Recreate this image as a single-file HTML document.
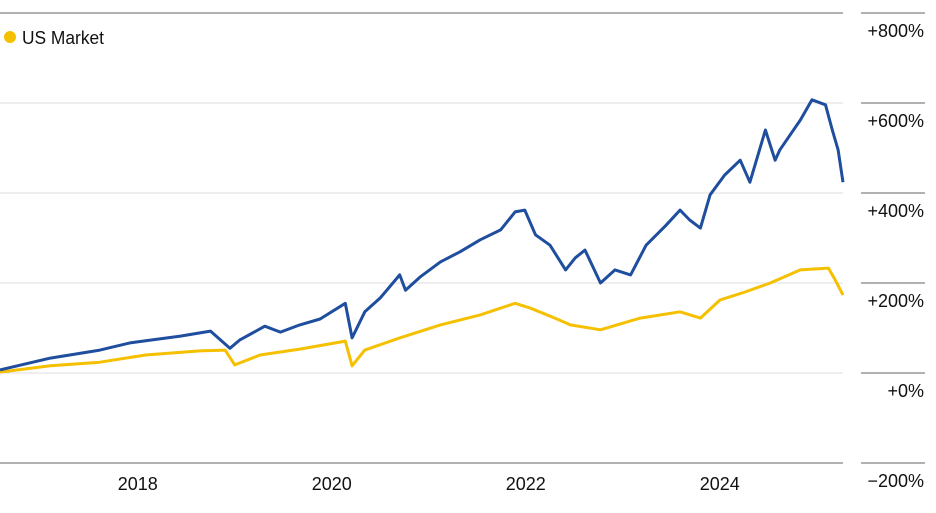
<!DOCTYPE html>
<html><head><meta charset="utf-8"><style>
body{margin:0;background:#fff;font-family:"Liberation Sans",sans-serif}
svg text{font-family:"Liberation Sans",sans-serif}
</style></head><body>
<svg width="936" height="508" viewBox="0 0 936 508">
<g id="grid"></g><g id="axis"></g><g id="series"></g>
<g>
<circle cx="10" cy="37" r="6" fill="#f5c000"/>
<text x="22" y="44" font-size="18" fill="#111" textLength="82" lengthAdjust="spacingAndGlyphs">US Market</text>
</g>
</svg>
<script>
const yTicks=[800,600,400,200,0,-200];
const yTickLabels=["+800%","+600%","+400%","+200%","+0%","\u2212200%"];
const xTicks=[2018,2020,2022,2024];
const blueDates=[2016.58,2017.1,2017.61,2017.92,2018.13,2018.44,2018.75,2018.95,2019.05,2019.31,2019.47,2019.67,2019.88,2020.14,2020.21,2020.34,2020.5,2020.7,2020.76,2020.91,2021.12,2021.32,2021.53,2021.74,2021.89,2021.99,2022.1,2022.25,2022.41,2022.51,2022.61,2022.77,2022.92,2023.08,2023.24,2023.44,2023.59,2023.69,2023.8,2023.9,2024.05,2024.21,2024.31,2024.47,2024.57,2024.62,2024.83,2024.95,2025.09,2025.16,2025.22,2025.27];
const blueVals=[7,33,51,67,73,82,93,55,73,104,91,107,120,155,78,136,167,218,184,213,247,269,296,318,358,362,307,284,229,256,273,200,229,218,284,327,362,340,322,396,440,473,424,540,473,496,562,607,596,540,496,424];
const yellowDates=[2016.58,2017.1,2017.61,2018.08,2018.64,2018.9,2019.0,2019.26,2019.67,2020.14,2020.21,2020.34,2020.7,2021.12,2021.53,2021.89,2022.05,2022.3,2022.46,2022.77,2023.18,2023.59,2023.8,2024.0,2024.26,2024.52,2024.83,2025.12,2025.19,2025.27];
const yellowVals=[2,16,24,40,49,51,18,40,53,71,16,51,78,107,129,155,144,122,107,96,122,136,122,162,180,200,229,233,207,173];
const X0=2016.58,X1=2025.27,PL=0,PR=843;
const xs=d=>PL+(d-X0)/(X1-X0)*(PR-PL);
const ys=v=>373-v*0.45;
const NS="http://www.w3.org/2000/svg";
function mk(tag,attrs,parent){const e=document.createElementNS(NS,tag);for(const k in attrs)e.setAttribute(k,attrs[k]);parent.appendChild(e);return e;}
const grid=document.getElementById('grid'),axis=document.getElementById('axis'),series=document.getElementById('series');
yTicks.forEach((t,i)=>{
 const y=ys(t);
 const edge=(i===0||i===yTicks.length-1);
 const g=mk('line',{x1:0,x2:843,y1:y,y2:y,stroke:edge?'#999':'#ddd','stroke-width':edge?1.5:1},grid);
 
 
 const tl=mk('line',{x1:861,x2:925,y1:y,y2:y,stroke:'#999','stroke-width':1.5},axis);
 
 
 const tx=mk('text',{x:924,y:y+24,'text-anchor':'end','font-size':'18',fill:'#111'},axis);
 tx.textContent=yTickLabels[i];
 
 
});
xTicks.forEach(t=>{
 const tx=mk('text',{x:xs(t),y:490,'text-anchor':'middle','font-size':'18',fill:'#111'},axis);
 tx.textContent=String(t);
 
 
});
function line(d,v,c,name){
 const p=d.map((di,i)=>(i?'L':'M')+xs(di).toFixed(1)+','+ys(v[i]).toFixed(1)).join('');
 const e=mk('path',{d:p,fill:'none',stroke:c,'stroke-width':3,'stroke-linejoin':'round'},series);
 
 
}
line(yellowDates,yellowVals,'#f5c000','us-market-line');
line(blueDates,blueVals,'#1f4e9e','fund-line');
</script>
</body></html>
